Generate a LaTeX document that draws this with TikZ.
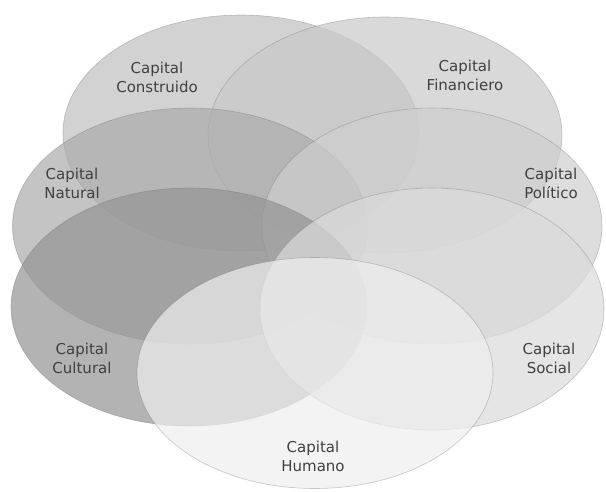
\documentclass[tikz,border=0pt]{standalone}
\usepackage{fontspec}
\setmainfont{DejaVu Sans}
\usetikzlibrary{shapes.geometric}
\definecolor{cCon}{gray}{0.75}
\definecolor{cFin}{gray}{0.79}
\definecolor{cNat}{gray}{0.67}
\definecolor{cPol}{gray}{0.81}
\definecolor{cCul}{gray}{0.58}
\definecolor{cSoc}{gray}{0.86}
\definecolor{cHum}{gray}{0.935}
\definecolor{txt}{gray}{0.25}
\tikzset{
  petal/.style={ellipse, inner sep=0pt, fill opacity=0.7, draw opacity=0.35, draw=black!60, line width=0.6pt},
  lbl/.style={align=center, text=txt, font=\fontsize{15}{19}\selectfont, inner sep=0pt}
}
\begin{document}
\begin{tikzpicture}[x=1pt,y=-1pt]
\useasboundingbox (0,0) rectangle (606,491);
\fill[white] (0,0) rectangle (606,491);
\node[petal, fill=cCon, minimum width=356pt, minimum height=236pt] (con) at (241,133) {};
\node[petal, fill=cFin, minimum width=354pt, minimum height=236pt] (fin) at (385,135) {};
\node[petal, fill=cNat, minimum width=355pt, minimum height=236pt] (nat) at (190,226) {};
\node[petal, fill=cPol, minimum width=340pt, minimum height=236pt] (pol) at (432,226) {};
\node[petal, fill=cCul, minimum width=356pt, minimum height=238pt] (cul) at (189,307) {};
\node[petal, fill=cSoc, minimum width=344pt, minimum height=242pt] (soc) at (432,309) {};
\node[petal, fill=cHum, minimum width=356pt, minimum height=231pt] (hum) at (315,373) {};
\node[lbl] (tcon) at (157,77) {Capital\\Construido};
\node[lbl] (tfin) at (465,75) {Capital\\Financiero};
\node[lbl] (tnat) at (72,183) {Capital\\Natural};
\node[lbl] (tpol) at (551,183) {Capital\\Político};
\node[lbl] (tcul) at (82,358) {Capital\\Cultural};
\node[lbl] (tsoc) at (549,358) {Capital\\Social};
\node[lbl] (thum) at (313,456) {Capital\\Humano};
\end{tikzpicture}
\end{document}
